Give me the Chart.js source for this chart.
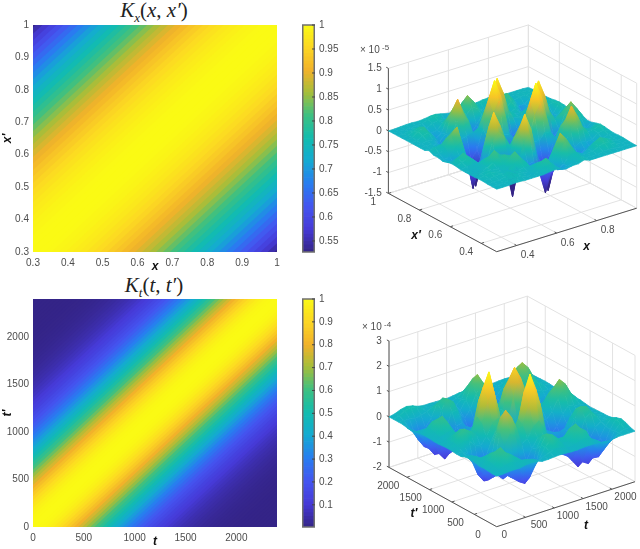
<!DOCTYPE html>
<html>
<head>
<meta charset="utf-8">
<script src="https://cdn.jsdelivr.net/npm/chart.js@4"></script>
<style>
  html, body { margin: 0; background: #fff; }
  body { position: relative; width: 640px; height: 549px; overflow: hidden; }
  canvas { position: absolute; filter: blur(0.5px); }
  #surfX, #surfT { filter: blur(0.7px); }
  .title { position: absolute; left: 0; width: 308px; text-align: center; color: #222;
           font: 21px "Liberation Serif", serif; }
  .title sub { font-size: 13px; }
</style>
</head>
<body>
<div class="title" style="top:-2px"><i>K<sub>x</sub></i>(<i>x</i>, <i>x′</i>)</div>
<div class="title" style="top:273px"><i>K<sub>t</sub></i>(<i>t</i>, <i>t′</i>)</div>
<canvas id="heatX" width="290" height="259" style="left:0;top:15px"></canvas>
<canvas id="barX" width="39" height="243" style="left:302px;top:15px"></canvas>
<canvas id="surfX" width="300" height="250" style="left:340px;top:20px"></canvas>
<canvas id="heatT" width="290" height="260" style="left:0;top:289px"></canvas>
<canvas id="barT" width="39" height="244" style="left:302px;top:289px"></canvas>
<canvas id="surfT" width="300" height="259" style="left:340px;top:290px"></canvas>
<script>
/* KERNEL VALUES READ ALONG THE LAG |x - x'| */
const kxLagStep = 0.02;
const kxValues = [1, 0.9995, 0.998, 0.995, 0.992, 0.987, 0.981, 0.975, 0.967, 0.959, 0.95, 0.939,
  0.928, 0.916, 0.903, 0.89, 0.876, 0.861, 0.845, 0.829, 0.813, 0.796, 0.778, 0.76, 0.742, 0.723,
  0.705, 0.685, 0.666, 0.647, 0.627, 0.608, 0.588, 0.569, 0.549, 0.53];
const ktLagStep = 40;
const ktValues = [1, 0.998, 0.991, 0.98, 0.965, 0.946, 0.923, 0.896, 0.867, 0.835, 0.8, 0.763, 0.725,
  0.685, 0.645, 0.605, 0.565, 0.524, 0.485, 0.446, 0.409, 0.373, 0.339, 0.306, 0.276, 0.247, 0.221,
  0.196, 0.174, 0.153, 0.134, 0.117, 0.101, 0.088, 0.075, 0.065, 0.055, 0.047, 0.04, 0.033, 0.028,
  0.023, 0.019, 0.016, 0.013, 0.011, 0.009, 0.007, 0.006, 0.005, 0.004, 0.004, 0.003, 0.003, 0.003,
  0.003, 0.003, 0.003, 0.003, 0.003, 0.003];

/* TICKS */
const kxTicks = [0.3, 0.4, 0.5, 0.6, 0.7, 0.8, 0.9, 1];
const ktTicks = [0, 500, 1000, 1500, 2000];
const kxBarTicks = [0.55, 0.6, 0.65, 0.7, 0.75, 0.8, 0.85, 0.9, 0.95, 1];
const ktBarTicks = [0.1, 0.2, 0.3, 0.4, 0.5, 0.6, 0.7, 0.8, 0.9, 1];
const surfXTicks = [0.4, 0.6, 0.8];
const surfXpTicks = [0.4, 0.6, 0.8, 1];
const surfXzTicks = [-1.5, -1, -0.5, 0, 0.5, 1, 1.5];
const surfTTicks = [500, 1000, 1500, 2000];
const surfTpTicks = [500, 1000, 1500, 2000];
const surfTzTicks = [-2, -1, 0, 1, 2, 3];

/* SURFACES, z * 100, row j holds i = 0..j, the other half is the mirror */
const surfXRows = [
  [0],
  [0, 0],
  [0, 1, 2],
  [1, 3, 5, 6],
  [1, 5, 8, 5, 2],
  [0, 3, 5, 3, 2, 8],
  [0, 0, 1, 2, 11, 19, 21],
  [0, 0, 0, 4, 17, 30, 15, -13],
  [0, 2, 3, 3, 8, 11, 0, -32, -55],
  [2, 8, 13, 5, -11, -20, -15, -19, -23, -16],
  [3, 12, 19, 6, -21, -40, -19, 24, 45, 30, 3],
  [1, 0, 1, -3, -16, -30, -17, 45, 85, 52, 1, -47],
  [-3, -10, -17, -6, -5, -34, -49, -3, 47, 34, -12, -75, -140],
  [0, -8, -8, 11, 22, -32, -100, -53, -16, -2, -11, -47, -75, -47],
  [0, 0, 7, 34, 50, -2, -51, -70, -66, -38, -5, -2, -2, -6, -21],
  [5, 8, 9, 22, 32, 7, -25, -66, -115, -60, -7, 46, 72, 36, -29, -60],
  [0, 0, 0, 1, -10, -23, -24, -41, -60, -38, 8, 72, 115, 75, 5, -30, -21],
  [0, 0, 0, -6, -27, -45, -26, -9, -6, -3, 4, 36, 75, 82, 62, 26, 3, 0],
  [0, 0, 2, 0, -15, -27, -13, 24, 42, 22, -17, -26, 7, 66, 100, 62, 13, 2, 0],
  [0, 2, 8, 12, -3, -16, -3, 42, 70, 34, -25, -55, -26, 30, 62, 36, 3, 0, 5, -8],
  [0, 3, 13, 19, 1, -17, -8, 24, 42, 22, -17, -30, -15, 5, 11, -5, -16, 2, 16, -2, -23],
  [0, 2, 8, 13, 0, -10, -7, 6, 9, 4, -1, 7, 22, 15, -1, -18, -23, 3, 29, 11, -10, -10],
  [0, 0, 2, 3, 2, -3, 4, 7, 3, -6, -3, 20, 44, 26, 5, -5, -7, 8, 20, 13, -1, 2, 3],
  [0, 0, 0, 0, 0, 2, 7, 12, 5, -7, -12, 6, 24, 15, 5, 9, 11, 11, 7, 2, 1, 2, 3, 2],
  [0, 0, 1, 2, 2, 1, 2, 4, 5, 2, -2, -3, 3, 5, 4, 2, 4, 5, 4, 2, 1, 1, 1, 1, 0],
];
const surfTRows = [
  [0],
  [0, 6],
  [2, 14, 39],
  [3, 21, 52, 61],
  [2, 14, 36, 30, -21],
  [7, 15, 16, -14, -74, -97],
  [9, 12, -2, -40, -93, -80, 7],
  [7, 5, -19, -81, -113, -63, 57, 140],
  [0, -7, -37, -95, -127, -76, 35, 105, 77],
  [0, 1, -14, -54, -86, -56, 2, 49, 40, -5],
  [2, 12, 23, 19, -6, -14, 16, 56, 72, 9, -70],
  [3, 18, 45, 56, 39, 21, 52, 135, 174, 75, -103, -193],
  [2, 12, 33, 45, 33, 22, 72, 182, 236, 136, -48, -146, -98],
  [0, 5, 14, 22, 8, -4, 25, 119, 170, 97, -21, -69, -10, 89],
  [0, 6, 14, 22, -2, -38, -40, 3, 46, 19, -26, -30, 39, 142, 190],
  [2, 14, 38, 48, 10, -54, -84, -53, -20, -18, -35, -19, 30, 105, 142, 99],
  [3, 21, 52, 58, 6, -68, -90, -56, -24, -28, -42, -28, 7, 38, 55, 22, -29],
  [2, 14, 34, 18, -50, -114, -106, -46, -30, -55, -75, -55, -20, 3, 6, -18, -60, -80],
  [0, -1, -12, -51, -116, -145, -98, -29, -24, -69, -100, -75, -27, 0, 3, -16, -46, -60, -36],
  [-3, -18, -54, -98, -130, -116, -44, 19, 14, -45, -81, -51, 0, 27, 16, -8, -31, -31, 1, 58],
  [-4, -27, -67, -101, -94, -51, 22, 58, 40, -10, -42, -11, 43, 75, 45, -7, -36, -26, 19, 79, 105],
  [0, -16, -45, -60, -43, -10, 38, 52, 32, -1, -20, 15, 69, 100, 60, -7, -45, -34, 6, 56, 79, 58],
  [0, -2, -4, -8, -4, 4, 14, 21, 10, -5, -12, 9, 51, 75, 45, -7, -34, -27, -2, 21, 31, 21, 8],
  [0, 7, 19, 25, 19, 7, 1, 3, 1, -4, -6, 4, 20, 30, 16, -2, -15, -10, -4, 3, 5, 3, 1, 0],
  [0, 5, 14, 19, 14, 5, 1, 1, 0, -1, -2, 1, 4, 5, 4, -1, -4, -2, -1, 1, 2, 1, 0, 0, 0],
];

/* COLORMAP */
const parulaStops = [[52, 36, 135], [70, 58, 215], [68, 85, 240], [40, 125, 240], [20, 170, 210],
  [18, 188, 175], [60, 192, 130], [165, 190, 58], [242, 178, 42], [252, 215, 35], [250, 250, 20]];

function parula(t) {
  const p = Math.min(Math.max(t, 0), 1) * (parulaStops.length - 1);
  const k = Math.min(Math.floor(p), parulaStops.length - 2);
  const c = parulaStops[k].map((v, n) => Math.round(v + (parulaStops[k + 1][n] - v) * (p - k)));
  return `rgb(${c[0]},${c[1]},${c[2]})`;
}

const tickColor = "#4d4d4d";
const tickFont = { family: "'Liberation Sans', sans-serif", size: 10 };
const labelFont = { family: "'Liberation Sans', sans-serif", size: 12, style: "italic", weight: "bold" };

/* pin the axis box so the plot area lands where the reference has it */
const pinAxis = (size) => (s) => {
  if (s.isHorizontal()) s.height = size;
  else s.width = size;
  s.paddingLeft = s.paddingRight = s.paddingTop = s.paddingBottom = 0;
};
const useTicks = (list) => (s) => {
  s.ticks = list.map((v) => ({ value: v }));
};

const baseOptions = {
  responsive: false,
  animation: false,
  events: [],
  plugins: { legend: { display: false }, tooltip: { enabled: false } },
};

/* HEATMAP: one thick line per lag, on both sides of the diagonal */
function drawHeat(id, values, lagStep, range, ticks, axisName, cMin) {
  const span = range[1] - range[0];
  const datasets = [];
  values.forEach((v, k) => {
    [1, -1].forEach((side) => {
      const lag = side * k * lagStep;
      datasets.push({
        data: [
          { x: range[0] - span, y: range[0] - span + lag },
          { x: range[1] + span, y: range[1] + span + lag },
        ],
        borderColor: parula((v - cMin) / (1 - cMin)),
        borderWidth: 6,
        pointRadius: 0,
        clip: 0,
      });
    });
  });
  const axis = (size, title, pad) => ({
    type: "linear",
    min: range[0],
    max: range[1],
    afterBuildTicks: useTicks(ticks),
    afterFit: pinAxis(size),
    grid: { display: false, drawTicks: false },
    border: { display: false },
    ticks: { color: tickColor, font: tickFont, padding: pad, autoSkip: false, maxRotation: 0, callback: (v) => String(v) },
    title: { display: true, text: title, color: "#111", font: labelFont, padding: 0 },
  });
  new Chart(document.getElementById(id), {
    type: "line",
    data: { datasets },
    options: {
      ...baseOptions,
      layout: { padding: { top: 10, right: 13 } },
      scales: { x: axis(22, axisName, 5), y: axis(33, axisName + "′", 4) },
    },
  });
}

/* COLORBAR */
function drawBar(id, cMin, ticks) {
  const levels = 64;
  const datasets = [];
  for (let k = 0; k < levels; k++) {
    const lo = cMin + ((1 - cMin) * k) / levels;
    const hi = cMin + ((1 - cMin) * (k + 1)) / levels;
    datasets.push({ data: [[lo, hi]], backgroundColor: parula((k + 0.5) / levels), categoryPercentage: 1, barPercentage: 1 });
  }
  const frame = {
    id: "frame",
    afterDraw(chart) {
      const { ctx, chartArea: a, scales } = chart;
      ctx.save();
      ctx.strokeStyle = "#707070";
      ctx.lineWidth = 1.5;
      ctx.strokeRect(a.left + 0.75, a.top, a.width - 1.5, a.height);
      ctx.strokeStyle = "#444";
      ctx.lineWidth = 1;
      ticks.forEach((v) => {
        const y = scales.y.getPixelForValue(v);
        ctx.beginPath();
        ctx.moveTo(a.right - 3, y);
        ctx.lineTo(a.right, y);
        ctx.stroke();
      });
      ctx.restore();
    },
  };
  new Chart(document.getElementById(id), {
    type: "bar",
    data: { labels: [""], datasets },
    plugins: [frame],
    options: {
      ...baseOptions,
      layout: { padding: { top: 10, bottom: 6 } },
      scales: {
        x: { display: false, stacked: true },
        y: {
          position: "right",
          min: cMin,
          max: 1,
          afterBuildTicks: useTicks(ticks),
          afterFit: pinAxis(26),
          grid: { display: false, drawTicks: false },
          border: { display: false },
          ticks: { color: tickColor, font: tickFont, padding: 4, autoSkip: false, callback: (v) => String(v) },
        },
      },
    },
  });
}

/* SURFACE: a box seen from above, quads go back to front */
function drawSurface(id, rows, view, xTicks, yTicks, zTicks) {
  const canvas = document.getElementById(id);
  const g = canvas.getContext("2d");
  const project = (x, y, z) => {
    const s = (x - view.xr[0]) / (view.xr[1] - view.xr[0]);
    const t = (y - view.yr[0]) / (view.yr[1] - view.yr[0]);
    const h = (z - view.zr[0]) / (view.zr[1] - view.zr[0]);
    return {
      x: view.o[0] + s * view.ex[0] + t * view.ey[0],
      y: view.o[1] + s * view.ex[1] + t * view.ey[1] - h * view.hz,
    };
  };
  const last = rows.length - 1;
  const zAt = (i, j) => (i <= j ? rows[j][i] : rows[i][j]) / 100;
  const xAt = (i) => view.xr[0] + ((view.xr[1] - view.xr[0]) * i) / last;
  const yAt = (j) => view.yr[0] + ((view.yr[1] - view.yr[0]) * j) / last;
  const colorOf = (z) => parula((z - view.cLim[0]) / (view.cLim[1] - view.cLim[0]));

  const datasets = [];
  // first dataset ends up on top, so the front corner goes first
  for (let sum = 0; sum <= 2 * last - 2; sum++) {
    for (let i = 0; i < last; i++) {
      const j = sum - i;
      if (j < 0 || j >= last) continue;
      const corners = [[i, j], [i + 1, j], [i + 1, j + 1], [i, j + 1], [i, j]];
      const pts = corners.map(([a, b]) => project(xAt(a), yAt(b), zAt(a, b)));
      const zs = corners.map(([a, b]) => zAt(a, b));
      const low = zs.indexOf(Math.min(...zs));
      const high = zs.indexOf(Math.max(...zs));
      // shade each quad from its lowest corner to its highest
      let paint = colorOf(zs[low]);
      if (zs[high] > zs[low]) {
        paint = g.createLinearGradient(pts[low].x, pts[low].y, pts[high].x, pts[high].y);
        paint.addColorStop(0, colorOf(zs[low]));
        paint.addColorStop(0.5, colorOf((zs[low] + zs[high]) / 2));
        paint.addColorStop(1, colorOf(zs[high]));
      }
      datasets.push({
        data: pts,
        backgroundColor: paint,
        borderColor: paint,
        borderWidth: 0.7,
        pointRadius: 0,
        fill: "shape",
      });
    }
  }

  const line = (a, b, color, width) =>
    datasets.push({ data: [a, b], borderColor: color, borderWidth: width, pointRadius: 0 });
  const [x0, x1] = view.xr;
  const [y0, y1] = view.yr;
  const [z0, z1] = view.zr;
  const dx = (x1 - x0) * 0.02;
  const dy = (y1 - y0) * 0.02;

  // dark axes and ticks
  line(project(x0, y1, z0), project(x0, y1, z1), "#555", 1);
  line(project(x0, y1, z0), project(x0, y0, z0), "#555", 1);
  line(project(x0, y0, z0), project(x1, y0, z0), "#555", 1);
  zTicks.forEach((z) => line(project(x0, y1, z), project(x0, y1 + dy, z), "#555", 1));
  xTicks.forEach((x) => line(project(x, y0, z0), project(x, y0 + dy, z0), "#555", 1));
  yTicks.forEach((y) => line(project(x0, y, z0), project(x0 + dx, y, z0), "#555", 1));

  // light grid on floor and the two back walls
  const light = "#e2e2e2";
  [x0, ...xTicks, x1].forEach((x) => {
    line(project(x, y0, z0), project(x, y1, z0), light, 1);
    line(project(x, y1, z0), project(x, y1, z1), light, 1);
  });
  [y0, ...yTicks, y1].forEach((y) => {
    line(project(x0, y, z0), project(x1, y, z0), light, 1);
    line(project(x1, y, z0), project(x1, y, z1), light, 1);
  });
  zTicks.forEach((z) => {
    line(project(x0, y1, z), project(x1, y1, z), light, 1);
    line(project(x1, y1, z), project(x1, y0, z), light, 1);
  });

  const labels = {
    id: "labels",
    afterDraw(chart) {
      const { ctx, scales } = chart;
      const put = (text, px, py, align, font, color) => {
        ctx.textAlign = align;
        ctx.textBaseline = "middle";
        ctx.font = font;
        ctx.fillStyle = color;
        ctx.fillText(text, scales.x.getPixelForValue(px), scales.y.getPixelForValue(py));
      };
      ctx.save();
      const small = "10px 'Liberation Sans', sans-serif";
      zTicks.forEach((z) => {
        const p = project(x0, y1, z);
        put(String(z), view.zLabelX, p.y, "right", small, tickColor);
      });
      xTicks.forEach((x) => {
        const p = project(x, y0, z0);
        put(String(x), p.x + view.xOff[0], p.y + view.xOff[1], "center", small, tickColor);
      });
      if (view.xZero !== undefined) {
        const p = project(view.xZero, y0, z0);
        put(String(view.xZero), p.x + view.xOff[0] - 6, p.y + view.xOff[1], "center", small, tickColor);
      }
      yTicks.forEach((y) => {
        const p = project(x0, y, z0);
        put(String(y), p.x + view.yOff[0], p.y + view.yOff[1], "center", small, tickColor);
      });
      if (view.yZero !== undefined) {
        const p = project(x0, view.yZero, z0);
        put(String(view.yZero), p.x + view.yOff[0], p.y + view.yOff[1], "center", small, tickColor);
      }
      put("× 10", view.mult[0], view.mult[1], "left", small, tickColor);
      put(view.power, view.mult[0] + 22, view.mult[1] - 3, "left", "8px 'Liberation Sans', sans-serif", tickColor);
      const axisFont = "italic bold 12px 'Liberation Sans', sans-serif";
      put(view.names[0], view.xName[0], view.xName[1], "center", axisFont, "#111");
      put(view.names[1], view.yName[0], view.yName[1], "center", axisFont, "#111");
      ctx.restore();
    },
  };

  new Chart(canvas, {
    type: "line",
    data: { datasets },
    plugins: [labels],
    options: {
      ...baseOptions,
      scales: {
        x: { type: "linear", display: false, min: 0, max: canvas.width },
        y: { type: "linear", display: false, min: 0, max: canvas.height, reverse: true },
      },
    },
  });
}

drawHeat("heatX", kxValues, kxLagStep, [0.3, 1], kxTicks, "x", 0.527);
drawHeat("heatT", ktValues, ktLagStep, [0, 2400], ktTicks, "t", 0.003);
drawBar("barX", 0.527, kxBarTicks);
drawBar("barT", 0.003, ktBarTicks);

drawSurface("surfX", surfXRows, {
  xr: [0.3, 1], yr: [0.3, 1], zr: [-1.5, 1.5], cLim: [-0.9, 1.1],
  o: [156.7, 231.7], ex: [140, -43.5], ey: [-108.3, -58.3], hz: 125,
  xOff: [11, 10], yOff: [-15, 9], zLabelX: 41.7, mult: [20, 30.7], power: "-5",
  names: ["x", "x′"], xName: [246.7, 226.7], yName: [76, 216],
}, surfXTicks, surfXpTicks, surfXzTicks);

drawSurface("surfT", surfTRows, {
  xr: [0, 2400], yr: [0, 2400], zr: [-2, 3], cLim: [-1.9, 2.4],
  o: [156.7, 236.7], ex: [138.3, -45], ey: [-107.7, -59.3], hz: 126.3,
  xOff: [13.5, 8.4], yOff: [-18.7, 8.7], zLabelX: 41.7, mult: [22, 37.5], power: "-4",
  xZero: 0, yZero: 0,
  names: ["t", "t′"], xName: [246, 235.7], yName: [74, 224],
}, surfTTicks, surfTpTicks, surfTzTicks);
</script>
</body>
</html>
